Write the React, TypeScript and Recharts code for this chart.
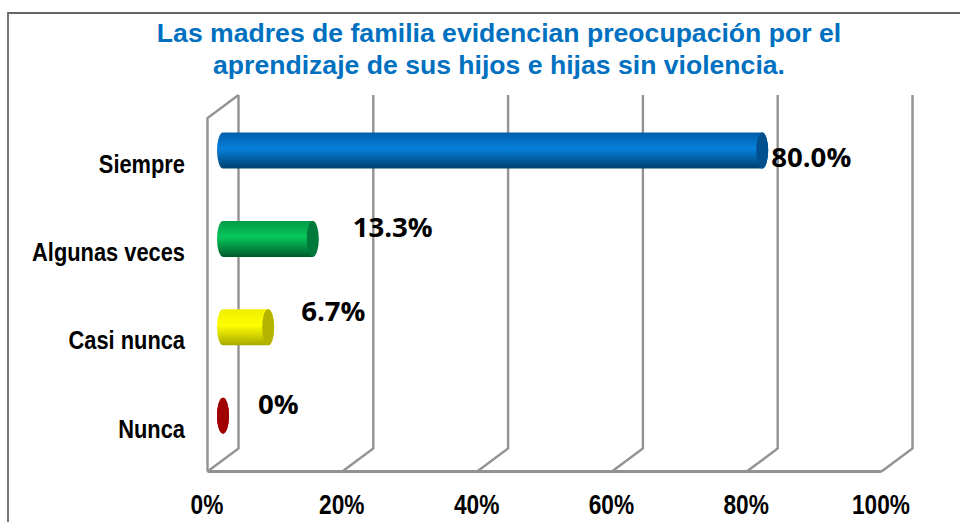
import { Bar, BarChart, CartesianGrid, LabelList, ReferenceArea, XAxis, YAxis } from "recharts";

const categories = ["Siempre", "Algunas veces", "Casi nunca", "Nunca"];
const percentages = [80, 13.3, 6.7, 0];
const valueLabels = ["80.0%", "13.3%", "6.7%", "0%"];
const xTicks = [0, 20, 40, 60, 80, 100];

const barColors = [
  { top: "#005ea8", mid: "#0580dc", bottom: "#00406f", cap: "#00508f" },
  { top: "#049a48", mid: "#07c65a", bottom: "#005c2c", cap: "#007a3a" },
  { top: "#eeee00", mid: "#ffff00", bottom: "#a8a800", cap: "#b4b400" },
  { top: "#a80000", mid: "#a80000", bottom: "#a00000", cap: "#a00000" },
];
// data label placement relative to the bar end
const labelDx = [9, 40, 33, 35];
const labelDy = [6, -12, -16, -12];

const data = categories.map((name, i) => ({ name, value: percentages[i], label: valueLabels[i] }));

// fake 3d box: the plot sits halfway between the front and back planes
const DEPTH_X = 15.5;
const DEPTH_Y = 11.5;
const WALL = "#929292";
const ARIAL = "'Liberation Sans', Arial, sans-serif";

function Cylinder(props: any) {
  const { x, y, width, height, index } = props;
  const c = barColors[index];
  const rx = 6;
  const ry = height / 2;
  const cy = y + ry;
  const end = x + width;
  const body = `M${x} ${y} L${end} ${y} A${rx} ${ry} 0 0 1 ${end} ${y + height} L${x} ${y + height} A${rx} ${ry} 0 0 1 ${x} ${y} Z`;
  return (
    <g>
      <path d={body} fill={`url(#cyl${index})`} />
      <ellipse cx={end} cy={cy} rx={rx} ry={ry} fill={c.cap} />
    </g>
  );
}

function GridLine(props: any) {
  const { x1, y1, y2 } = props;
  const d = `M${x1 + DEPTH_X} ${y1 - DEPTH_Y} L${x1 + DEPTH_X} ${y2 - DEPTH_Y} L${x1 - DEPTH_X} ${y2 + DEPTH_Y}`;
  return <path d={d} fill="none" stroke={WALL} strokeWidth={2.4} />;
}

function Walls(props: any) {
  const { x, y, width, height } = props;
  const left = x - DEPTH_X;
  const floorY = y + height + DEPTH_Y;
  return (
    <g>
      <path
        d={`M${left} ${floorY} L${left} ${y + DEPTH_Y} L${x + DEPTH_X} ${y - DEPTH_Y}`}
        fill="none"
        stroke={WALL}
        strokeWidth={2.4}
      />
      <path d={`M${left} ${floorY} L${left + width} ${floorY}`} stroke={WALL} strokeWidth={3} />
    </g>
  );
}

// the reference uses a condensed bold face, so squeeze Liberation Sans
function NarrowText({ x, y, anchor, size, squeeze, children }: any) {
  return (
    <text
      transform={`translate(${x} ${y}) scale(${squeeze} 1)`}
      textAnchor={anchor}
      fontFamily={ARIAL}
      fontWeight="bold"
      fontSize={size}
      fill="#000"
    >
      {children}
    </text>
  );
}

function PercentTick(props: any) {
  const { x, payload } = props;
  return (
    <NarrowText x={x - DEPTH_X - 0.5} y={514} anchor="middle" size={28} squeeze={0.81}>
      {payload.value}%
    </NarrowText>
  );
}

function CategoryTick(props: any) {
  const { y, payload } = props;
  return (
    <NarrowText x={185} y={y + 22} anchor="end" size={26} squeeze={0.84}>
      {payload.value}
    </NarrowText>
  );
}

function ValueLabel(props: any) {
  const { x, y, width, height, index, value } = props;
  return (
    <text
      x={x + width + labelDx[index]}
      y={y + height / 2 + labelDy[index] + 10}
      fontFamily="'Open Sans', sans-serif"
      fontWeight="bold"
      fontSize={27.6}
      fill="#000"
    >
      {value}
    </text>
  );
}

export default function App() {
  return (
    <div style={{ position: "absolute", left: 0, top: 0, width: 960, height: 522, background: "#fff", overflow: "hidden" }}>
      <div
        style={{
          position: "absolute",
          left: 7,
          top: 12,
          width: 960,
          height: 520,
          borderTop: "2px solid #666",
          borderLeft: "2px solid #777",
          boxSizing: "border-box",
        }}
      />
      <div
        style={{
          position: "absolute",
          left: 99,
          top: 17,
          width: 800,
          textAlign: "center",
          fontFamily: ARIAL,
          fontWeight: "bold",
          fontSize: 26.6,
          lineHeight: "32px",
          color: "#0070c0",
        }}
      >
        Las madres de familia evidencian preocupación por el
        <br />
        aprendizaje de sus hijos e hijas sin violencia.
      </div>
      <div style={{ position: "absolute", left: 0, top: 0 }}>
        <BarChart
          width={960}
          height={522}
          data={data}
          layout="vertical"
          barSize={36}
          margin={{ left: 0, right: 63, top: 106.5, bottom: 0 }}
          style={{ overflow: "visible" }}
        >
          <defs>
            {barColors.map((c, i) => (
              <linearGradient key={i} id={`cyl${i}`} x1="0" y1="0" x2="0" y2="1">
                <stop offset="0%" stopColor={c.top} />
                <stop offset="45%" stopColor={c.mid} />
                <stop offset="100%" stopColor={c.bottom} />
              </linearGradient>
            ))}
          </defs>
          <CartesianGrid horizontal={false} vertical={(p: any) => <GridLine key={p.key} {...p} />} />
          <ReferenceArea x1={0} x2={100} shape={<Walls />} ifOverflow="visible" />
          <XAxis
            type="number"
            domain={[0, 100]}
            ticks={xTicks}
            axisLine={false}
            tickLine={false}
            interval={0}
            height={62}
            tick={<PercentTick />}
          />
          <YAxis
            type="category"
            dataKey="name"
            width={223}
            axisLine={false}
            tickLine={false}
            interval={0}
            tick={<CategoryTick />}
          />
          <Bar dataKey="value" isAnimationActive={false} shape={<Cylinder />}>
            <LabelList dataKey="label" content={<ValueLabel />} />
          </Bar>
        </BarChart>
      </div>
    </div>
  );
}
